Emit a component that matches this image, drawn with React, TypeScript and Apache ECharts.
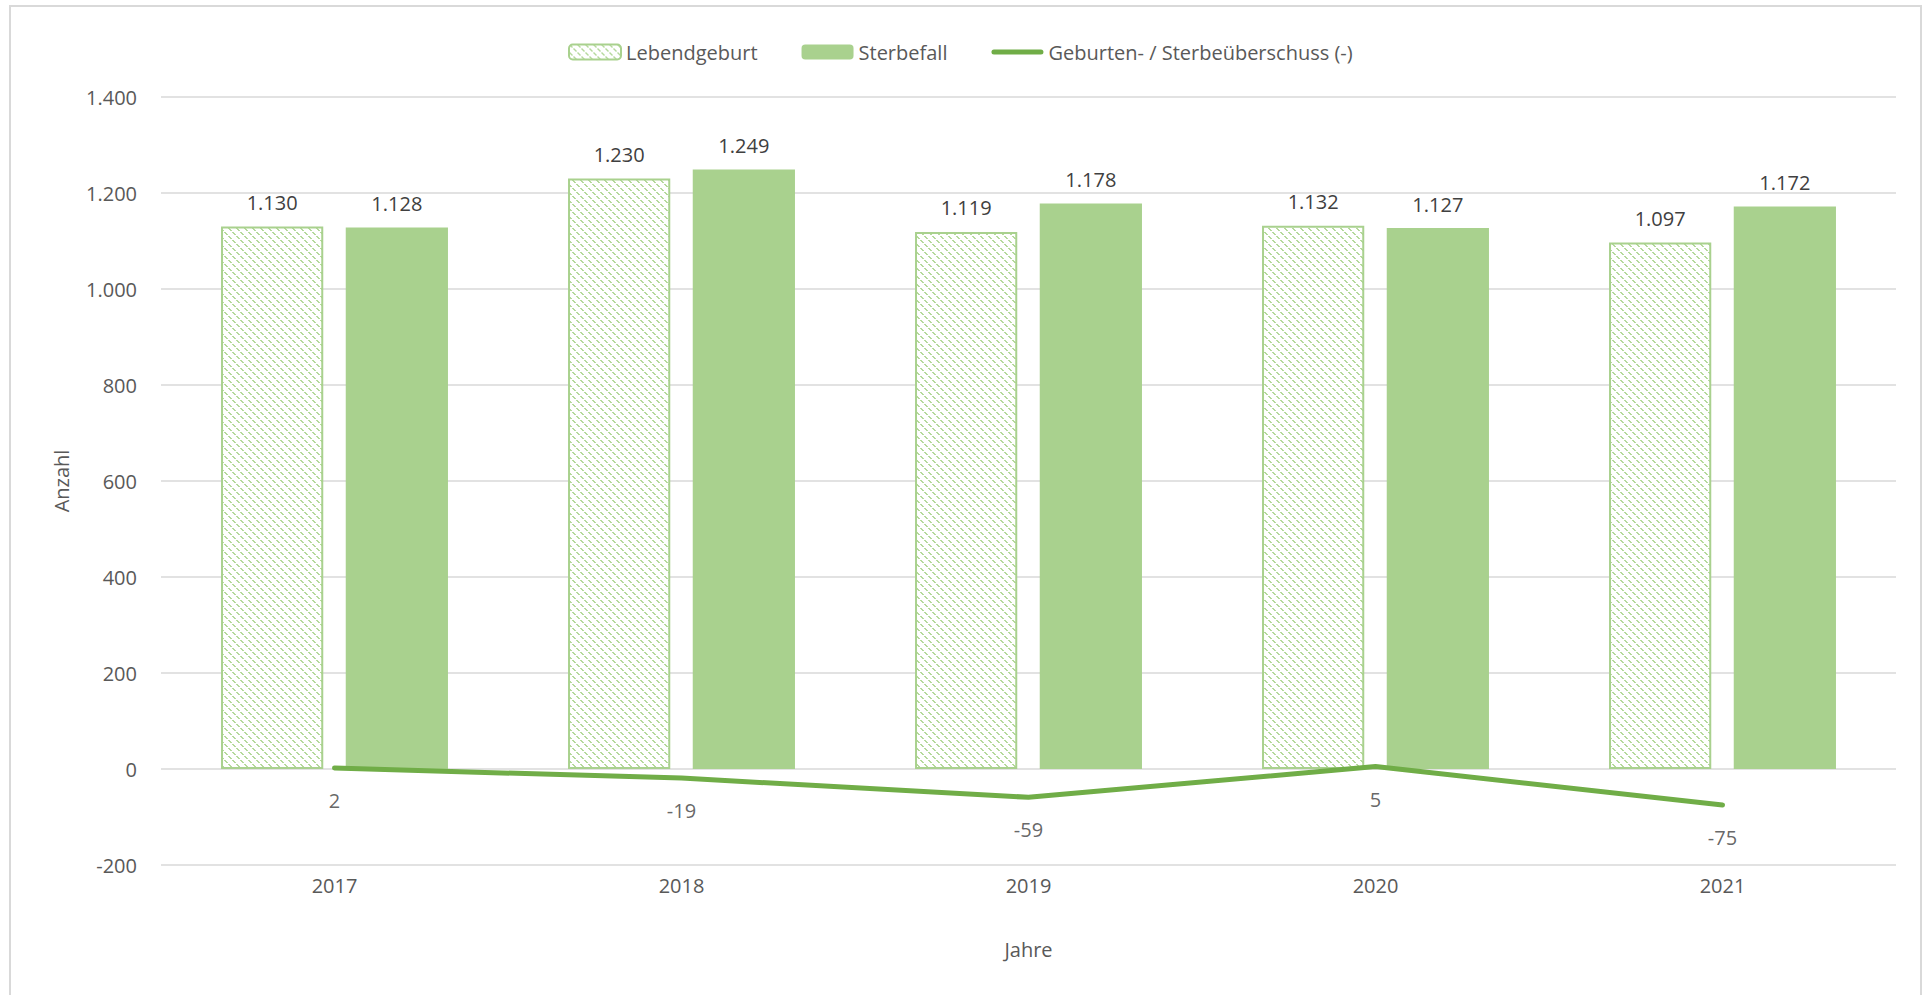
import React, { useEffect, useRef } from "react";
import * as echarts from "echarts";

const years = ["2017", "2018", "2019", "2020", "2021"];
const lebendgeburt = [1130, 1230, 1119, 1132, 1097];
const sterbefall = [1128, 1249, 1178, 1127, 1172];
const ueberschuss = [2, -19, -59, 5, -75];
const seriesNames = ["Lebendgeburt", "Sterbefall", "Geburten- / Sterbeüberschuss (-)"];

const fmt = (v: number) => {
  const s = Math.abs(Math.round(v)).toString().replace(/\B(?=(\d{3})+(?!\d))/g, ".");
  return (v < 0 ? "-" : "") + s;
};

function makePattern() {
  const c = document.createElement("canvas");
  c.width = 8;
  c.height = 8;
  const ctx = c.getContext("2d")!;
  ctx.fillStyle = "#ffffff";
  ctx.fillRect(0, 0, 8, 8);
  ctx.fillStyle = "#B5D99C";
  for (let i = 0; i < 8; i++) {
    if (i % 4 !== 3) {
      ctx.fillRect(i, i, 1, 1);
      ctx.fillRect((i + 1) % 8, i, 1, 1);
    }
  }
  return c;
}

export default function App() {
  const ref = useRef<HTMLDivElement>(null);
  useEffect(() => {
    if (!ref.current) return;
    const chart = echarts.init(ref.current, undefined, { renderer: "svg" });
    const font = "'Open Sans', 'Noto Sans', sans-serif";
    const pattern = { image: makePattern(), repeat: "repeat" };
    const labelBase = {
      show: true,
      fontSize: 20,
      color: "#404040",
      fontFamily: font,
      formatter: (p: any) => fmt(Array.isArray(p.value) ? p.value[1] : p.value),
    };
    chart.setOption({
      animation: false,
      backgroundColor: "#ffffff",
      textStyle: { fontFamily: font },
      graphic: [
        {
          type: "rect",
          shape: { x: 10, y: 6, width: 1911, height: 1000 },
          style: { fill: "none", stroke: "#d9d9d9", lineWidth: 2 },
          silent: true,
        },
      ],
      legend: {
        top: 37,
        left: 563,
        itemWidth: 52,
        itemHeight: 15,
        itemGap: 44,
        textStyle: { fontSize: 20, color: "#595959", fontFamily: font },
        data: [
          seriesNames[0],
          seriesNames[1],
          {
            name: seriesNames[2],
            icon: "path://M2.5,0 L49.5,0 A2.5,2.5 0 0 1 49.5,5 L2.5,5 A2.5,2.5 0 0 1 2.5,0 Z",
            itemStyle: { color: "#70AD47" },
          },
        ],
      },
      grid: { left: 161, right: 29, top: 97, bottom: 130 },
      xAxis: {
        type: "category",
        data: years,
        name: "Jahre",
        nameLocation: "middle",
        nameGap: 74,
        nameTextStyle: { fontSize: 20, color: "#595959", fontFamily: font },
        axisLine: { show: false },
        axisTick: { show: false },
        axisLabel: { fontSize: 20, color: "#595959", margin: 10, fontFamily: font },
      },
      yAxis: {
        type: "value",
        min: -200,
        max: 1400,
        interval: 200,
        name: "Anzahl",
        nameLocation: "middle",
        nameGap: 90,
        nameTextStyle: { fontSize: 20, color: "#595959", fontFamily: font },
        axisLine: { show: false },
        axisTick: { show: false },
        axisLabel: { fontSize: 20, color: "#595959", margin: 24, formatter: fmt, fontFamily: font },
        splitLine: { lineStyle: { color: "#d9d9d9", width: 1.5 } },
      },
      series: [
        {
          name: seriesNames[0],
          type: "bar",
          data: lebendgeburt,
          barCategoryGap: "34.6%",
          barGap: "22%",
          itemStyle: { color: pattern, borderColor: "#A9D18E", borderWidth: 2 },
          label: { ...labelBase, position: "top", distance: 14 },
        },
        {
          name: seriesNames[1],
          type: "bar",
          data: sterbefall,
          itemStyle: { color: "#A9D18E" },
          label: { ...labelBase, position: "top", distance: 14 },
        },
        {
          name: seriesNames[2],
          type: "line",
          data: ueberschuss,
          symbol: "none",
          z: 5,
          lineStyle: { color: "#70AD47", width: 5, cap: "round", join: "round" },
          itemStyle: { color: "#70AD47" },
        },
        {
          name: "labels",
          type: "scatter",
          data: ueberschuss,
          symbolSize: 1,
          itemStyle: { color: "rgba(0,0,0,0)" },
          z: 6,
          silent: true,
          label: { ...labelBase, position: "bottom", distance: 22 },
        },
      ],
    });
    return () => chart.dispose();
  }, []);
  return (
    <div
      ref={ref}
      style={{ position: "fixed", left: 0, top: 0, width: 1925, height: 995 }}
    />
  );
}
